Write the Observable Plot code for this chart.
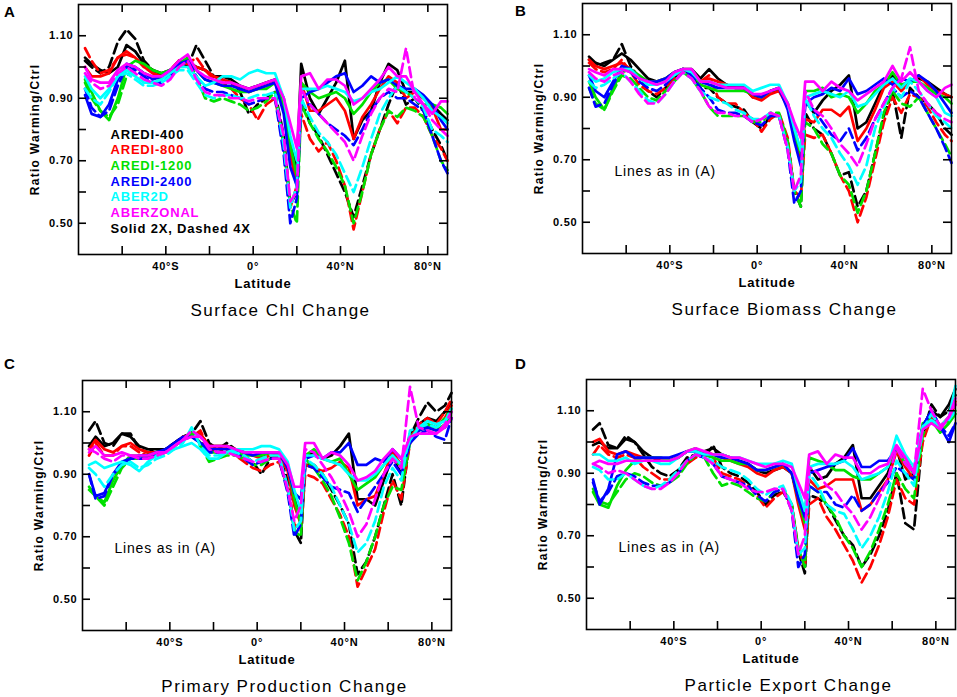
<!DOCTYPE html>
<html><head><meta charset="utf-8">
<script src="https://cdn.jsdelivr.net/npm/d3@7"></script>
<script src="https://cdn.jsdelivr.net/npm/@observablehq/plot@0.6"></script>
<style>
body{margin:0;background:#fff;}
#wrap{position:relative;width:957px;height:697px;overflow:hidden;background:#fff;}
.pan{position:absolute;}
.pan svg{overflow:visible;}
g[aria-label="x-axis tick label"] text, g[aria-label="y-axis tick label"] text{letter-spacing:0.8px;}
</style></head><body><div id="wrap"></div>
<script>
// Latitudes (degrees; negative = south)
const LAT = [-77,-74,-70,-66,-62,-58,-54,-50,-46,-42,-38,-34,-30,-26,-22,-18,-14,-10,-6,-2,2,6,10,14,17,20,22,26,30,34,38,42,46,50,54,58,62,66,70,74,78,82,86,89];
const MODELS = ["AREDI-400","AREDI-800","AREDI-1200","AREDI-2400","ABER2D","ABERZONAL"];
const COLORS = ["#000000","#ff0000","#00e000","#0000ff","#00ffff","#ff00ff"];
const SCENARIOS = ["2X","4X"]; // solid, dashed
const Y_TICKS = [0.5,0.6,0.7,0.8,0.9,1.0,1.1];
const Y_LABELS = [0.5,0.7,0.9,1.1];
const X_TICKS = [-60,-40,-20,0,20,40,60,80];
const X_LABELS = [-40,0,40,80];

// Ratio warming/ctrl, in percent
// (A) Surface Chl Change
const A_400_2X = [103,101,99,98,100,107,105,101,99,98, 99,101,102,100,99,97,97,96,94,93, 94,95,96,90,75,68,101,90,85,90, 95,102,77,83,86,95,101,99,92,92, 90,88,85,83];
const A_400_4X = [102,100,98,100,108,112,109,102,99,97, 98,102,100,107,102,97,96,95,92,85, 88,90,92,78,56,60,90,82,78,72, 66,60,52,62,72,80,88,95,88,90, 86,80,75,70];
const A_800_2X = [100,97,97,98,103,105,103,100,98,97, 99,102,101,100,99,97,96,95,93,92, 93,94,95,88,72,62,95,86,86,88, 90,86,77,84,88,93,97,95,90,92, 90,87,80,80];
const A_800_4X = [106,102,98,99,103,104,103,100,98,97, 99,102,101,103,99,96,95,93,90,88, 83,88,90,75,55,62,85,77,73,76, 70,62,48,60,72,80,86,82,87,87, 84,78,74,70];
const A_1200_2X = [96,92,86,83,90,100,102,101,99,98, 99,101,103,99,96,95,94,93,92,92, 93,93,95,88,75,65,95,92,90,91, 92,90,85,88,92,95,96,93,92,90, 88,88,87,85];
const A_1200_4X = [95,90,86,84,88,97,100,98,97,96, 97,100,102,97,90,89,90,89,88,86, 87,89,92,75,56,50,88,82,77,73, 68,62,50,60,72,80,86,84,87,86, 84,78,70,67];
const A_2400_2X = [91,85,84,88,96,101,100,98,96,97, 99,101,102,99,96,95,94,94,93,92, 93,94,95,85,68,62,90,92,93,95, 97,98,92,94,97,95,96,94,93,93, 91,88,83,80];
const A_2400_4X = [93,87,84,86,94,100,99,97,95,95, 97,100,102,97,93,92,92,91,90,88, 89,90,90,72,50,58,88,88,85,82, 80,78,75,80,86,90,92,90,90,88, 86,78,70,66];
const A_2D_2X = [97,93,90,93,97,99,97,95,95,96, 98,100,100,97,94,95,97,97,96,98, 99,98,98,90,78,70,93,93,93,94, 93,92,89,90,92,93,95,97,95,93, 90,86,84,82];
const A_2D_4X = [93,90,88,92,97,98,96,94,94,95, 97,99,99,95,91,90,91,91,90,90, 91,91,92,75,55,62,90,84,79,76, 72,66,60,68,77,85,90,94,92,90, 87,80,78,76];
const A_ZON_2X = [100,96,95,95,99,101,100,98,97,97, 99,102,104,99,97,96,95,95,94,93, 94,95,96,90,82,74,97,98,93,96, 96,94,88,90,93,96,100,97,97,92, 88,85,89,89];
const A_ZON_4X = [98,95,93,94,98,100,98,96,95,94, 96,100,102,96,92,91,91,90,90,89, 90,90,90,78,57,60,93,88,85,82, 79,76,70,78,85,90,93,92,106,90, 88,83,80,78];

// (B) Surface Biomass Change
const B_400_2X = [103,101,100,102,104,102,99,96,95,95, 97,99,99,96,99,96,94,93,93,90, 90,92,92,88,80,72,89,85,89,92, 94,97,80,82,88,94,97,93,95,96, 95,93,91,90];
const B_400_4X = [102,100,101,102,107,100,96,92,90,93, 96,99,97,93,93,90,88,87,86,82, 80,84,84,75,60,55,85,80,78,72, 65,66,55,60,72,84,92,77,93,90, 88,85,80,78];
const B_800_2X = [102,100,99,100,101,99,96,95,95,96, 98,99,98,95,96,95,94,93,93,90, 89,91,92,87,78,70,83,82,86,86, 84,87,76,80,86,93,95,92,95,97, 94,92,91,90];
const B_800_4X = [101,99,98,99,102,98,94,92,91,93, 96,99,98,95,97,90,88,88,85,83, 79,83,85,77,60,58,78,77,78,72, 65,60,50,58,70,82,90,85,91,90, 87,82,78,76];
const B_1200_2X = [95,90,86,93,98,99,97,95,95,96, 98,99,98,94,93,92,92,92,92,91, 90,92,93,88,78,72,92,92,93,90, 91,90,85,88,92,94,98,94,95,95, 93,91,90,88];
const B_1200_4X = [93,88,86,92,97,96,93,90,89,92, 95,98,96,92,87,84,84,84,84,82, 82,85,85,76,60,55,82,80,75,72, 65,62,53,60,72,85,92,88,87,90, 85,80,75,71];
const B_2400_2X = [97,92,90,95,100,99,96,95,95,96, 98,99,98,95,94,93,93,93,93,91, 90,92,93,86,76,68,88,90,91,93, 92,96,91,92,94,96,94,96,95,97, 95,92,88,85];
const B_2400_4X = [93,87,88,94,99,98,95,93,92,94, 97,99,97,93,90,86,85,85,84,82, 81,84,84,73,56,60,88,86,82,78, 76,80,73,77,83,88,93,90,92,90, 85,80,74,69];
const B_2D_2X = [97,95,96,98,99,99,96,94,94,95, 97,99,98,95,95,94,94,94,94,92, 93,94,94,88,80,73,90,91,92,91, 90,92,87,88,91,94,96,93,96,95, 92,90,85,84];
const B_2D_4X = [95,93,94,96,98,95,92,89,88,91, 95,98,96,92,90,89,88,86,85,83, 83,85,84,74,60,63,90,84,80,77, 72,68,62,68,80,87,93,90,95,92, 88,84,82,80];
const B_ZON_2X = [99,98,97,99,99,98,96,95,94,95, 98,99,99,95,95,94,93,93,93,91, 91,92,93,88,82,77,95,95,92,95, 93,92,89,91,93,95,100,95,98,95, 92,90,93,94];
const B_ZON_4X = [98,96,95,97,98,95,91,88,88,91, 95,98,96,92,87,85,85,84,84,82, 83,85,84,73,60,65,92,86,84,80, 75,72,68,75,83,88,93,96,106,92, 88,85,83,82];

// (C) Primary Production Change
const C_400_2X = [99,102,99,100,103,102,99,98,98,98, 100,102,103,100,99,99,99,98,97,96, 96,97,96,92,83,78,96,97,95,96, 99,103,82,82,80,88,96,90,103,106, 108,107,110,113];
const C_400_4X = [104,107,100,99,103,103,98,97,98,98, 100,102,103,107,100,98,100,98,96,94, 90,95,96,88,72,68,93,93,90,85, 80,74,58,62,70,80,90,80,102,108, 113,110,112,116];
const C_800_2X = [98,101,98,97,99,100,98,97,97,97, 99,102,102,103,99,99,99,98,97,96, 95,96,96,91,80,74,93,92,91,92, 94,92,80,82,83,90,97,93,102,105, 106,105,108,112];
const C_800_4X = [96,100,96,96,99,99,97,96,96,97, 99,102,102,104,98,97,98,96,94,92, 91,93,94,86,74,72,90,89,87,82, 77,70,54,60,66,78,88,82,100,106, 108,106,110,114];
const C_1200_2X = [85,83,81,88,93,96,96,96,97,97, 99,101,103,100,97,97,97,97,96,96, 96,97,97,93,82,74,96,98,95,94, 95,90,85,87,89,93,96,92,102,104, 105,104,106,110];
const C_1200_4X = [86,83,80,86,92,95,95,95,96,97, 99,101,104,99,94,95,96,96,95,93, 93,95,95,85,72,70,95,92,88,83, 76,68,56,62,70,80,86,85,100,104, 106,105,108,111];
const C_2400_2X = [90,83,84,90,94,95,96,96,97,98, 100,102,102,100,98,98,98,98,97,96, 97,97,97,92,84,82,95,96,95,97, 97,100,93,93,95,94,98,95,100,104, 105,104,105,108];
const C_2400_4X = [90,82,83,90,93,95,95,95,96,97, 99,101,102,100,97,97,97,97,95,93, 94,95,95,84,70,74,93,92,89,86, 85,84,78,82,86,90,94,90,100,103, 104,102,101,108];
const C_2D_2X = [93,94,92,93,94,93,91,94,96,97, 98,99,100,98,95,95,97,98,98,98, 99,99,98,94,85,78,96,96,95,94, 93,90,88,88,90,93,96,93,101,105, 107,106,107,111];
const C_2D_4X = [92,90,86,90,93,94,92,93,95,96, 98,100,105,99,96,96,97,97,96,94, 95,96,96,86,72,75,95,93,90,86, 80,74,65,68,75,86,92,88,104,105, 106,105,107,110];
const C_ZON_2X = [97,99,96,96,97,96,96,96,97,97, 99,101,102,102,99,99,99,98,97,97, 97,97,97,93,86,86,100,100,95,97, 96,93,88,89,91,95,98,95,102,103, 103,103,105,108];
const C_ZON_4X = [98,97,95,94,96,96,95,95,96,97, 99,101,104,102,98,97,97,96,95,94, 94,95,95,85,75,80,98,97,93,89, 84,78,70,74,82,90,95,92,118,105, 104,103,106,110];

// (D) Particle Export Change
const D_400_2X = [99,100,98,98,101,100,97,95,94,94, 95,97,97,97,98,96,95,94,93,91, 90,91,92,90,82,76,92,88,89,93, 95,99,82,82,86,90,98,88,90,105, 110,108,112,117];
const D_400_4X = [104,106,99,98,102,100,96,92,90,89, 91,95,96,95,99,92,90,89,87,84, 80,83,84,80,65,58,83,82,80,75, 70,67,60,64,70,78,90,74,72,102, 112,108,110,115];
const D_800_2X = [100,101,97,96,97,96,95,94,94,94, 95,97,97,97,96,95,94,93,92,90, 89,91,92,90,80,72,88,85,86,88, 88,88,78,80,84,88,97,92,88,105, 108,105,108,113];
const D_800_4X = [96,99,96,95,96,95,92,90,88,88, 90,93,95,96,95,90,89,88,86,83, 79,82,84,80,66,60,80,82,76,72, 67,62,55,60,67,76,88,82,80,100, 108,104,108,112];
const D_1200_2X = [84,80,79,86,91,94,95,95,95,94, 95,97,98,96,95,94,94,93,93,91, 91,92,93,90,82,74,95,94,93,91, 91,89,88,88,90,92,98,93,90,106, 107,103,106,109];
const D_1200_4X = [85,81,80,84,88,90,89,87,86,87, 89,93,96,95,90,86,87,86,84,82, 81,84,85,80,66,60,86,84,80,76, 70,66,60,65,72,80,90,85,82,102, 109,105,107,110];
const D_2400_2X = [88,80,85,96,97,95,95,95,95,95, 96,97,97,96,96,95,95,94,93,91, 91,92,93,90,82,76,90,91,92,93, 94,98,92,92,94,94,98,95,90,105, 110,105,100,106];
const D_2400_4X = [87,81,84,89,90,89,87,86,86,87, 90,94,96,95,93,89,88,87,86,83, 81,84,85,78,60,64,86,84,84,80, 79,83,78,80,84,87,92,90,88,105, 110,105,102,106];
const D_2D_2X = [96,96,94,94,95,93,94,94,93,93, 95,97,97,96,96,96,95,95,94,93, 93,93,94,93,85,78,92,93,93,93, 94,92,88,89,90,92,102,96,92,105, 107,105,108,118];
const D_2D_4X = [92,91,88,88,90,88,86,85,86,88, 91,94,96,95,94,92,91,90,88,85, 83,85,86,80,64,66,90,86,80,78, 77,72,66,70,76,84,94,90,86,104, 109,105,107,110];
const D_ZON_2X = [93,94,93,93,94,94,94,94,94,94, 95,97,98,97,96,96,95,95,94,93, 92,93,93,92,87,82,96,97,93,96, 95,95,90,90,92,93,99,95,90,104, 106,104,108,114];
const D_ZON_4X = [93,92,90,91,90,88,86,85,85,87, 90,94,96,95,93,89,88,87,85,84, 84,85,85,78,64,70,92,90,86,84, 80,77,72,76,82,88,98,93,90,117, 110,105,108,112];

const TITLES = ["Surface Chl Change","Surface Biomass Change","Primary Production Change","Particle Export Change"];
const LETTERS = ["A","B","C","D"];
const Y_TITLE = "Ratio Warming/Ctrl";
const X_TITLE = "Latitude";
const NOTE = "Lines as in (A)";
const LEGEND_FOOT = "Solid 2X, Dashed 4X";

const PANEL_SERIES = [
  [[A_400_2X,A_400_4X],[A_800_2X,A_800_4X],[A_1200_2X,A_1200_4X],[A_2400_2X,A_2400_4X],[A_2D_2X,A_2D_4X],[A_ZON_2X,A_ZON_4X]],
  [[B_400_2X,B_400_4X],[B_800_2X,B_800_4X],[B_1200_2X,B_1200_4X],[B_2400_2X,B_2400_4X],[B_2D_2X,B_2D_4X],[B_ZON_2X,B_ZON_4X]],
  [[C_400_2X,C_400_4X],[C_800_2X,C_800_4X],[C_1200_2X,C_1200_4X],[C_2400_2X,C_2400_4X],[C_2D_2X,C_2D_4X],[C_ZON_2X,C_ZON_4X]],
  [[D_400_2X,D_400_4X],[D_800_2X,D_800_4X],[D_1200_2X,D_1200_4X],[D_2400_2X,D_2400_4X],[D_2D_2X,D_2D_4X],[D_ZON_2X,D_ZON_4X]]
];

// layout
const LAYOUT = [
  {left:0,   top:0,   width:478, height:340, mt:4,  letterDx:-69, letterDy:7.5},
  {left:504, top:0,   width:449, height:340, mt:3,  letterDx:-62, letterDy:8},
  {left:4,   top:340, width:478, height:357, mt:40, letterDx:-73, letterDy:-16},
  {left:508, top:340, width:449, height:357, mt:39, letterDx:-66, letterDy:-15}
];

const FONT = "'Liberation Sans', Arial, Helvetica, sans-serif";
const ML = 78, FW = 369, FH = 250;
const latFmt = d => d === 0 ? "0°" : d < 0 ? `${-d}°S` : `${d}°N`;

// letter spacing per text (the original font is wide-set)
const SPACING = new Map([[Y_TITLE, 1.3], [X_TITLE, 0.8], [NOTE, 0.8], [LEGEND_FOOT, 0.8]]);
TITLES.forEach(t => SPACING.set(t, 1.5));
MODELS.forEach(t => SPACING.set(t, 0.8));

const wrap = document.getElementById("wrap");

PANEL_SERIES.forEach((series, p) => {
  const L = LAYOUT[p];
  const marks = [];
  series.forEach((pair, m) => {
    pair.forEach((arr, s) => {
      const rows = LAT.map((lat, i) => ({lat, v: arr[i] / 100, model: MODELS[m], scenario: SCENARIOS[s]}));
      marks.push(Plot.line(rows, {
        x: "lat", y: "v", stroke: COLORS[m], strokeWidth: 2.7,
        strokeDasharray: s === 1 ? "10,5" : null, strokeLinejoin: "round"
      }));
    });
  });
  // inward ticks
  marks.push(Plot.tickY(Y_TICKS, {y: d => d, insetRight: FW - 8, stroke: "black", strokeWidth: 1.6}));
  marks.push(Plot.tickY(Y_TICKS, {y: d => d, insetLeft: FW - 8, stroke: "black", strokeWidth: 1.6}));
  marks.push(Plot.tickX(X_TICKS, {x: d => d, insetBottom: FH - 8, stroke: "black", strokeWidth: 1.6}));
  marks.push(Plot.tickX(X_TICKS, {x: d => d, insetTop: FH - 8, stroke: "black", strokeWidth: 1.6}));
  marks.push(Plot.frame({stroke: "black", strokeWidth: 1.6}));
  marks.push(Plot.axisY({ticks: Y_LABELS, tickFormat: d3.format(".2f"), tickSize: 0, tickPadding: 5, fontSize: 11, fontWeight: "bold", label: null}));
  marks.push(Plot.axisX({ticks: X_LABELS, tickFormat: latFmt, tickSize: 0, tickPadding: 8, fontSize: 11, fontWeight: "bold", label: null}));
  marks.push(Plot.text([Y_TITLE], {text: d => d, frameAnchor: "left", rotate: -90, dx: -43, fontSize: 12, fontWeight: "bold", textAnchor: "middle", lineAnchor: "middle"}));
  marks.push(Plot.text([X_TITLE], {text: d => d, frameAnchor: "bottom", dy: 29, fontSize: 13, fontWeight: "bold", lineAnchor: "middle"}));
  marks.push(Plot.text([TITLES[p]], {text: d => d, frameAnchor: "bottom", dx: 17.5, dy: 56, fontSize: 17, lineAnchor: "middle"}));
  marks.push(Plot.text([LETTERS[p]], {text: d => d, frameAnchor: "top-left", dx: L.letterDx, dy: L.letterDy, fontSize: 15, fontWeight: "bold", textAnchor: "middle", lineAnchor: "middle"}));
  if (p === 0) {
    MODELS.forEach((name, m) => {
      marks.push(Plot.text([name], {text: d => d, frameAnchor: "top-left", dx: 32, dy: 130 + m * 15.7, fontSize: 13, fontWeight: "bold", fill: COLORS[m], textAnchor: "start", lineAnchor: "middle"}));
    });
    marks.push(Plot.text([LEGEND_FOOT], {text: d => d, frameAnchor: "top-left", dx: 32, dy: 130 + 6 * 15.7, fontSize: 13, fontWeight: "bold", fill: "black", textAnchor: "start", lineAnchor: "middle"}));
  } else {
    marks.push(Plot.text([NOTE], {text: d => d, frameAnchor: "top-left", dx: 32, dy: 168, fontSize: 14, textAnchor: "start", lineAnchor: "middle"}));
  }
  const chart = Plot.plot({
    width: L.width, height: L.height,
    marginLeft: ML, marginRight: L.width - ML - FW,
    marginTop: L.mt, marginBottom: L.height - L.mt - FH,
    style: {fontFamily: FONT, background: "transparent", color: "black", overflow: "visible"},
    x: {domain: [-80, 89], label: null},
    y: {domain: [0.4, 1.2], label: null},
    marks
  });
  chart.querySelectorAll("text").forEach(t => {
    const s = SPACING.get(t.textContent);
    if (s != null) t.style.letterSpacing = s + "px";
  });
  const div = document.createElement("div");
  div.className = "pan";
  div.style.left = L.left + "px";
  div.style.top = L.top + "px";
  div.appendChild(chart);
  wrap.appendChild(div);
});
</script></body></html>
